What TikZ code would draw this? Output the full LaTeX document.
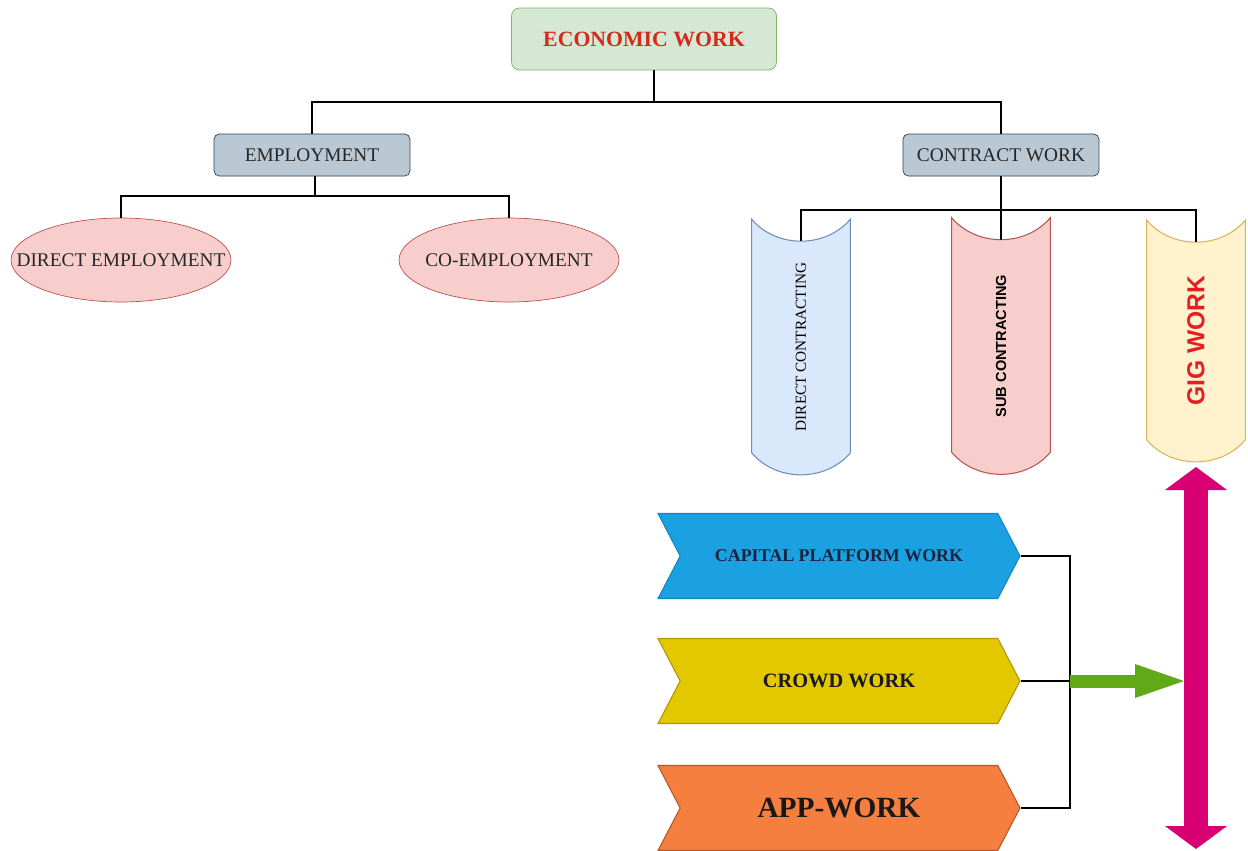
\documentclass[tikz,border=0pt]{standalone}
\usepackage{fontspec}
\setmainfont{Liberation Serif}
\setsansfont{Liberation Sans}
\usepackage{graphicx}
\usetikzlibrary{shapes.geometric,shapes.symbols,arrows.meta,backgrounds}

\definecolor{rootfill}{HTML}{D5E8D4}
\definecolor{rootline}{HTML}{82B366}
\definecolor{roottext}{HTML}{D42A1E}
\definecolor{midfill}{HTML}{BAC8D3}
\definecolor{midline}{HTML}{23445D}
\definecolor{leaffill}{HTML}{F8CECC}
\definecolor{leafline}{HTML}{B85450}
\definecolor{bluefill}{HTML}{DAE8FC}
\definecolor{blueline}{HTML}{6C8EBF}
\definecolor{yelfill}{HTML}{FFF2CC}
\definecolor{yelline}{HTML}{D6B656}
\definecolor{gigred}{HTML}{E51E25}
\definecolor{capfill}{HTML}{1BA1E2}
\definecolor{capline}{HTML}{1287C4}
\definecolor{captext}{HTML}{1C2340}
\definecolor{crowdfill}{HTML}{E3C800}
\definecolor{crowdline}{HTML}{B09500}
\definecolor{appfill}{HTML}{F47F3F}
\definecolor{appline}{HTML}{B4562A}
\definecolor{magfill}{HTML}{D80073}
\definecolor{grnfill}{HTML}{60A917}

% banner with hollow top and round bottom, drawn behind node #1
\newcommand{\tapeshape}[2]
{   \begin{pgfonlayer}{background}
    \filldraw[#2] ([yshift=0.44cm]#1.north west)
      .. controls ([xshift=-0.49cm,yshift=-0.147cm]#1.north) and ([xshift=0.49cm,yshift=-0.147cm]#1.north) .. ([yshift=0.44cm]#1.north east)
      -- (#1.south east)
      .. controls ([xshift=0.49cm,yshift=-0.587cm]#1.south) and ([xshift=-0.49cm,yshift=-0.587cm]#1.south) .. (#1.south west)
      -- cycle;
    \end{pgfonlayer}
}

\begin{document}
\begin{tikzpicture}[x=0.02cm,y=-0.02cm,
  link/.style={draw=black,line width=1.2pt},
  rootbox/.style={rectangle,rounded corners=4.5pt,draw=rootline,fill=rootfill,
    minimum width=5.3cm,minimum height=1.24cm,text=roottext,
    font=\fontsize{12.4}{14}\selectfont\bfseries},
  midbox/.style={rectangle,rounded corners=3pt,draw=midline,fill=midfill,
    minimum width=3.92cm,minimum height=0.84cm,text=black!85,
    font=\fontsize{11}{13}\selectfont},
  leafell/.style={ellipse,draw=leafline,fill=leaffill,inner sep=0pt,
    minimum width=4.4cm,minimum height=1.68cm,text=black!85,
    font=\fontsize{11}{13}\selectfont},
  tapebox/.style={rectangle,inner sep=0pt,minimum width=1.96cm},
  chevron/.style={signal,signal from=west,signal to=east,signal pointer angle=125,
    inner sep=0pt,minimum width=7.24cm,minimum height=1.7cm,line width=0.6pt},
  bothway/.style={draw=magfill,line width=0.48cm,
    {Triangle[width=1.24cm,length=0.46cm,line width=0pt]}-{Triangle[width=1.24cm,length=0.46cm,line width=0pt]}},
  feedarrow/.style={draw=grnfill,line width=0.26cm,
    -{Triangle[width=0.68cm,length=0.98cm,line width=0pt]}}
]
\useasboundingbox (0,0) rectangle (1248,850);

% top of the tree
\node[rootbox] (econ) at (644,39) {ECONOMIC WORK};
\node[midbox] (empl) at (312,155) {EMPLOYMENT};
\node[midbox] (contr) at (1001,155) {CONTRACT WORK};
\coordinate (j1) at (654,102);
\draw[link] (econ.south -| j1) -- (j1);
\draw[link] (empl.north) |- (j1) -| (contr.north);

% employment branch
\node[leafell] (dirE) at (121,260) {\makebox[0pt]{DIRECT EMPLOYMENT}};
\node[leafell] (coE) at (509,260) {\makebox[0pt]{CO-EMPLOYMENT}};
\coordinate (j2) at (315,196);
\draw[link] (empl.south -| j2) -- (j2);
\draw[link] (dirE.north) |- (j2) -| (coE.north);

% contract work branch
\node[tapebox,minimum height=4.22cm] (dirC) at (801,347)
  {\rotatebox{90}{\fontsize{8.7}{10}\selectfont DIRECT CONTRACTING}};
\node[tapebox,minimum height=4.24cm] (subC) at (1001,346)
  {\rotatebox{90}{\fontsize{8.3}{10}\selectfont\sffamily\bfseries SUB CONTRACTING}};
\node[tapebox,minimum height=3.94cm] (gig) at (1196,341)
  {\rotatebox{90}{\fontsize{14}{16}\selectfont\sffamily\bfseries\color{gigred}GIG WORK}};
\tapeshape{dirC}{draw=blueline,fill=bluefill,line width=0.6pt}
\tapeshape{subC}{draw=leafline,fill=leaffill,line width=0.6pt}
\tapeshape{gig}{draw=yelline,fill=yelfill,line width=0.6pt}
\coordinate (j3) at (1001,210);
\draw[link] (contr.south) -- (subC.north);
\draw[link] (dirC.north) |- (j3) -| (gig.north);

% kinds of gig work
\node[chevron,draw=capline,fill=capfill,text=captext,font=\fontsize{10.2}{12}\selectfont\bfseries]
  (cap) at (839,556) {CAPITAL PLATFORM WORK};
\node[chevron,draw=crowdline,fill=crowdfill,text=black!90,font=\fontsize{11.6}{13}\selectfont\bfseries]
  (crowd) at (839,681) {CROWD WORK};
\node[chevron,draw=appline,fill=appfill,text=black!90,font=\fontsize{16.7}{19}\selectfont\bfseries]
  (app) at (839,808) {APP-WORK};
\coordinate (hub) at (1070,681);
\draw[link] (cap.east) -| (hub);
\draw[link] (app.east) -| (hub);
\draw[link] (crowd.east) -- (hub);

\coordinate (gtop) at (1196,467);
\coordinate (gbot) at (1196,849);
\coordinate (hit) at (1184,681);
\draw[bothway] (gtop) -- (gbot);
\draw[feedarrow] (hub) -- (hit);

\end{tikzpicture}
\end{document}
